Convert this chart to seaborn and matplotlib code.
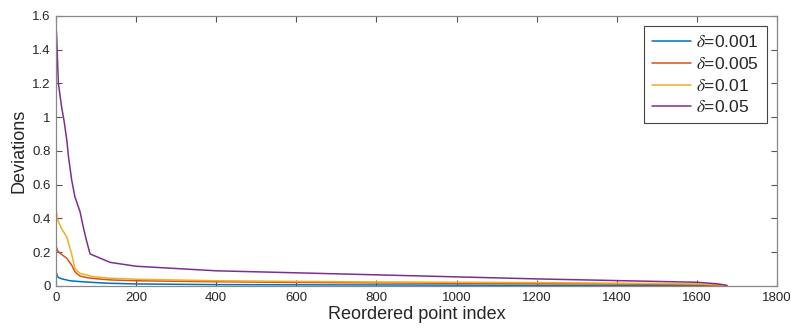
import numpy as np
import pandas as pd
import matplotlib
matplotlib.use('Agg')
import matplotlib.pyplot as plt
import seaborn as sns

# values, per delta
x_001 = [1, 3, 6, 15, 35, 60, 100, 135, 200, 400, 600, 800, 1000, 1200, 1400, 1600, 1660, 1675]
y_001 = [0.078, 0.06, 0.05, 0.042, 0.031, 0.026, 0.02, 0.016, 0.012, 0.008, 0.007, 0.006,
         0.005, 0.004, 0.003, 0.002, 0.001, 0.0]

x_005 = [1, 4, 10, 27, 39, 47, 55, 60, 80, 100, 135, 200, 400, 600, 800, 1000, 1200, 1400,
         1600, 1660, 1675]
y_005 = [0.23, 0.21, 0.194, 0.164, 0.124, 0.085, 0.068, 0.059, 0.048, 0.043, 0.036, 0.031,
         0.025, 0.021, 0.018, 0.016, 0.014, 0.012, 0.008, 0.004, 0.0]

x_01 = [1, 3, 8, 14, 27, 39, 47, 55, 60, 93, 135, 200, 400, 600, 800, 1000, 1200, 1400,
        1600, 1660, 1675]
y_01 = [0.44, 0.40, 0.37, 0.34, 0.29, 0.19, 0.105, 0.085, 0.075, 0.055, 0.046, 0.04, 0.031,
        0.027, 0.024, 0.022, 0.02, 0.017, 0.012, 0.006, 0.0]

x_05 = [1, 2, 4, 6, 14, 20, 27, 31, 39, 47, 60, 68, 76, 85, 110, 135, 200, 400, 600, 800,
        1000, 1200, 1400, 1600, 1650, 1675]
y_05 = [1.51, 1.46, 1.32, 1.2, 1.06, 0.98, 0.865, 0.77, 0.63, 0.53, 0.44, 0.35, 0.27, 0.19,
        0.165, 0.14, 0.117, 0.09, 0.078, 0.066, 0.054, 0.042, 0.032, 0.022, 0.013, 0.004]

labels = [r'$\delta$=0.001', r'$\delta$=0.005', r'$\delta$=0.01', r'$\delta$=0.05']
colors = ['#0072BD', '#D95319', '#EDB120', '#7E2F8E']

frames = []
for lab, xs, ys in zip(labels, [x_001, x_005, x_01, x_05], [y_001, y_005, y_01, y_05]):
    frames.append(pd.DataFrame({'idx': xs, 'dev': ys, 'delta': lab}))
df = pd.concat(frames, ignore_index=True)

sns.set_style('white')
plt.rcParams['font.family'] = ['Liberation Sans', 'DejaVu Sans']
plt.rcParams['mathtext.fontset'] = 'stix'

fig = plt.figure(figsize=(7.91, 3.31), dpi=100)
ax = fig.add_axes([0.0708, 0.136, 0.9115, 0.8157])

sns.lineplot(data=df, x='idx', y='dev', hue='delta', palette=colors, sort=False,
             linewidth=1.1, ax=ax)

ax.set_xlim(0, 1800)
ax.set_ylim(0, 1.6)
ax.set_xticks(np.arange(0, 1801, 200))
yt = np.arange(0, 1.61, 0.2)
ax.set_yticks(yt)
ax.set_yticklabels(['%g' % round(v, 1) for v in yt])
ax.tick_params(direction='in', length=4, width=0.8, color='#555555', labelsize=9.5,
               labelcolor='#262626', top=True, right=True, bottom=True, left=True, pad=4)
for s in ax.spines.values():
    s.set_color('#888888')
    s.set_linewidth(0.9)

ax.set_xlabel('Reordered point index', fontsize=13, color='#262626', labelpad=2)
ax.set_ylabel('Deviations', fontsize=13, color='#262626', labelpad=3)

leg = ax.legend(loc='upper right', bbox_to_anchor=(0.986, 0.963), borderaxespad=0,
                fontsize=12.5, frameon=True, fancybox=False, framealpha=1,
                edgecolor='#444444', handlelength=2.25, labelspacing=0.34,
                borderpad=0.45, handletextpad=0.3)
leg.get_frame().set_linewidth(0.8)

fig.savefig('out.png', dpi=100)
